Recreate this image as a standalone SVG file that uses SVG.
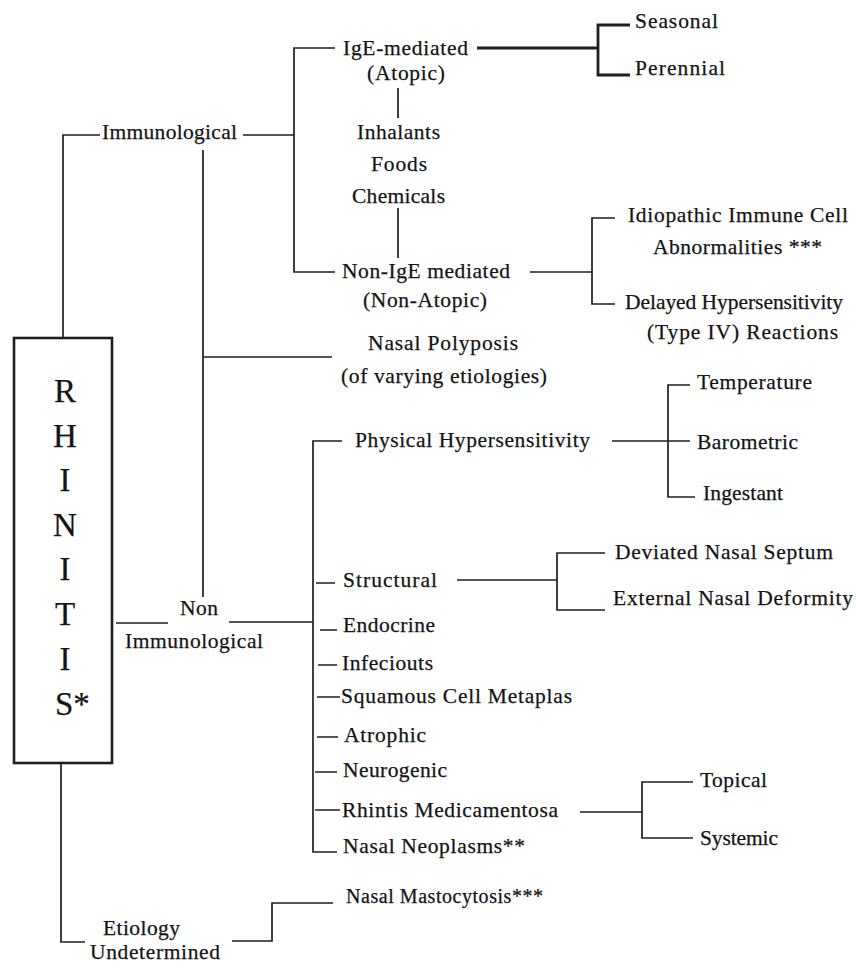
<svg xmlns="http://www.w3.org/2000/svg" width="858" height="963" viewBox="0 0 858 963">
<style>
text{font-family:"Liberation Serif","Times New Roman",serif;font-size:21.5px;fill:#141414;stroke:#141414;stroke-width:0.25}
.big{font-size:33px;text-anchor:middle}
.c{stroke:#1f1f1f;stroke-width:1.7;fill:none}
.t{stroke:#1f1f1f;stroke-width:2.8;fill:none}
.box{stroke:#1f1f1f;stroke-width:2.6;fill:none}
</style>
<rect width="858" height="963" fill="#fff"/>
<g id="connectors">
<path class="c" d="M63,338 V135 H100"/>
<path class="c" d="M243,135 H294"/>
<path class="c" d="M335,48 H294 V272 H335"/>
<path class="c" d="M398,88 V118 M398,208 V258"/>
<path class="t" d="M477,48 H598"/>
<path class="t" d="M630,25 H598 V75 H630"/>
<path class="c" d="M530,272 H592"/>
<path class="c" d="M615,218 H592 V304 H615"/>
<path class="c" d="M203,150 V597 M203,357 H332"/>
<path class="c" d="M116,623 H168 M229,622 H313"/>
<path class="c" d="M342,441 H313 V852 H337"/>
<path class="c" d="M316,583 H335 M320,630 H337 M318,665 H337 M317,697 H340 M317,737 H338 M315,772 H337 M315,810 H340"/>
<path class="c" d="M612,441 H690 M690,385 H668 V497 H695"/>
<path class="c" d="M457,580 H557 M605,553 H557 V610 H605"/>
<path class="c" d="M580,812 H642 M693,782 H642 V838 H693"/>
<path class="c" d="M61,763 V942 H85"/>
<path class="c" d="M232,941 H272 V903 H333"/>
</g>
<g id="rhinitis">
<rect class="box" x="14" y="338" width="98" height="425"/>
<text class="big" x="65" y="402">R</text>
<text class="big" x="65" y="447">H</text>
<text class="big" x="65" y="491">I</text>
<text class="big" x="65" y="536">N</text>
<text class="big" x="65" y="580">I</text>
<text class="big" x="65" y="625">T</text>
<text class="big" x="65" y="670">I</text>
<text class="big" x="55" y="715" style="text-anchor:start">S*</text>
</g>
<g id="immunological"><text x="102" y="139" textLength="135">Immunological</text></g>
<g id="ige"><text x="343" y="55" textLength="125">IgE-mediated</text><text x="367" y="80" textLength="78">(Atopic)</text></g>
<g id="allergens"><text x="357" y="139" textLength="83">Inhalants</text><text x="371" y="171" textLength="56">Foods</text><text x="352" y="203" textLength="93">Chemicals</text></g>
<g id="non-ige"><text x="342" y="278" textLength="168">Non-IgE mediated</text><text x="363" y="307" textLength="124">(Non-Atopic)</text></g>
<g id="seasonal"><text x="635" y="28" textLength="83">Seasonal</text></g>
<g id="perennial"><text x="635" y="75" textLength="90">Perennial</text></g>
<g id="idiopathic"><text x="628" y="222" textLength="220">Idiopathic Immune Cell</text><text x="653" y="254" textLength="169">Abnormalities ***</text></g>
<g id="delayed"><text x="625" y="309" textLength="218">Delayed Hypersensitivity</text><text x="647" y="339" textLength="191">(Type IV) Reactions</text></g>
<g id="polyposis"><text x="368" y="350" textLength="150">Nasal Polyposis</text><text x="341" y="383" textLength="206">(of varying etiologies)</text></g>
<g id="physical"><text x="355" y="447" textLength="235">Physical Hypersensitivity</text></g>
<g id="temperature"><text x="697" y="389" textLength="115">Temperature</text></g>
<g id="barometric"><text x="697" y="449" textLength="101">Barometric</text></g>
<g id="ingestant"><text x="703" y="500" textLength="80">Ingestant</text></g>
<g id="structural"><text x="343" y="587" textLength="94">Structural</text></g>
<g id="deviated"><text x="615" y="559" textLength="218">Deviated Nasal Septum</text></g>
<g id="external"><text x="613" y="605" textLength="240">External Nasal Deformity</text></g>
<g id="non-immunological"><text x="180" y="615" textLength="38">Non</text><text x="125" y="648" textLength="138">Immunological</text></g>
<g id="endocrine"><text x="343" y="632" textLength="92">Endocrine</text></g>
<g id="infeciouts"><text x="342" y="670" textLength="91">Infeciouts</text></g>
<g id="squamous"><text x="341" y="703" textLength="231">Squamous Cell Metaplas</text></g>
<g id="atrophic"><text x="344" y="742" textLength="82">Atrophic</text></g>
<g id="neurogenic"><text x="343" y="777" textLength="104">Neurogenic</text></g>
<g id="medicamentosa"><text x="342" y="817" textLength="216">Rhintis Medicamentosa</text></g>
<g id="topical"><text x="700" y="787" textLength="67">Topical</text></g>
<g id="systemic"><text x="700" y="845" textLength="78">Systemic</text></g>
<g id="neoplasms"><text x="343" y="853" textLength="182">Nasal Neoplasms**</text></g>
<g id="mastocytosis"><text x="346" y="903" textLength="197" style="font-size:20px">Nasal Mastocytosis***</text></g>
<g id="etiology"><text x="103" y="935" textLength="77">Etiology</text><text x="90" y="959" textLength="130">Undetermined</text></g>
</svg>
